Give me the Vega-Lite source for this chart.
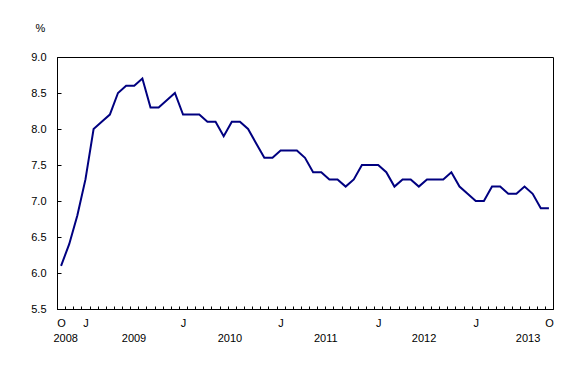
{
  "$schema": "https://vega.github.io/schema/vega-lite/v6.json",
  "autosize": "none",
  "width": 496,
  "height": 252,
  "padding": {"left": 57, "top": 57, "right": 35, "bottom": 71},
  "background": "white",
  "config": {
    "font": "Liberation Sans",
    "view": {"stroke": "black", "strokeWidth": 1},
    "axis": {"labelFont": "Liberation Sans", "labelFontSize": 11, "labelColor": "black", "domainColor": "black", "tickColor": "black", "grid": false, "titleFont": "Liberation Sans"}
  },
  "layer": [
    {
      "data": {"values": [
        {"i": 0, "month": "2008-10", "rate": 6.1}, {"i": 1, "month": "2008-11", "rate": 6.4}, {"i": 2, "month": "2008-12", "rate": 6.8},
        {"i": 3, "month": "2009-01", "rate": 7.3}, {"i": 4, "month": "2009-02", "rate": 8.0}, {"i": 5, "month": "2009-03", "rate": 8.1}, {"i": 6, "month": "2009-04", "rate": 8.2}, {"i": 7, "month": "2009-05", "rate": 8.5}, {"i": 8, "month": "2009-06", "rate": 8.6}, {"i": 9, "month": "2009-07", "rate": 8.6}, {"i": 10, "month": "2009-08", "rate": 8.7}, {"i": 11, "month": "2009-09", "rate": 8.3}, {"i": 12, "month": "2009-10", "rate": 8.3}, {"i": 13, "month": "2009-11", "rate": 8.4}, {"i": 14, "month": "2009-12", "rate": 8.5},
        {"i": 15, "month": "2010-01", "rate": 8.2}, {"i": 16, "month": "2010-02", "rate": 8.2}, {"i": 17, "month": "2010-03", "rate": 8.2}, {"i": 18, "month": "2010-04", "rate": 8.1}, {"i": 19, "month": "2010-05", "rate": 8.1}, {"i": 20, "month": "2010-06", "rate": 7.9}, {"i": 21, "month": "2010-07", "rate": 8.1}, {"i": 22, "month": "2010-08", "rate": 8.1}, {"i": 23, "month": "2010-09", "rate": 8.0}, {"i": 24, "month": "2010-10", "rate": 7.8}, {"i": 25, "month": "2010-11", "rate": 7.6}, {"i": 26, "month": "2010-12", "rate": 7.6},
        {"i": 27, "month": "2011-01", "rate": 7.7}, {"i": 28, "month": "2011-02", "rate": 7.7}, {"i": 29, "month": "2011-03", "rate": 7.7}, {"i": 30, "month": "2011-04", "rate": 7.6}, {"i": 31, "month": "2011-05", "rate": 7.4}, {"i": 32, "month": "2011-06", "rate": 7.4}, {"i": 33, "month": "2011-07", "rate": 7.3}, {"i": 34, "month": "2011-08", "rate": 7.3}, {"i": 35, "month": "2011-09", "rate": 7.2}, {"i": 36, "month": "2011-10", "rate": 7.3}, {"i": 37, "month": "2011-11", "rate": 7.5}, {"i": 38, "month": "2011-12", "rate": 7.5},
        {"i": 39, "month": "2012-01", "rate": 7.5}, {"i": 40, "month": "2012-02", "rate": 7.4}, {"i": 41, "month": "2012-03", "rate": 7.2}, {"i": 42, "month": "2012-04", "rate": 7.3}, {"i": 43, "month": "2012-05", "rate": 7.3}, {"i": 44, "month": "2012-06", "rate": 7.2}, {"i": 45, "month": "2012-07", "rate": 7.3}, {"i": 46, "month": "2012-08", "rate": 7.3}, {"i": 47, "month": "2012-09", "rate": 7.3}, {"i": 48, "month": "2012-10", "rate": 7.4}, {"i": 49, "month": "2012-11", "rate": 7.2}, {"i": 50, "month": "2012-12", "rate": 7.1},
        {"i": 51, "month": "2013-01", "rate": 7.0}, {"i": 52, "month": "2013-02", "rate": 7.0}, {"i": 53, "month": "2013-03", "rate": 7.2}, {"i": 54, "month": "2013-04", "rate": 7.2}, {"i": 55, "month": "2013-05", "rate": 7.1}, {"i": 56, "month": "2013-06", "rate": 7.1}, {"i": 57, "month": "2013-07", "rate": 7.2}, {"i": 58, "month": "2013-08", "rate": 7.1}, {"i": 59, "month": "2013-09", "rate": 6.9}, {"i": 60, "month": "2013-10", "rate": 6.9}
      ]},
      "mark": {"type": "line", "color": "#000080", "strokeWidth": 2},
      "encoding": {
        "x": {
          "field": "i", "type": "quantitative",
          "scale": {"domain": [-0.5, 60.5], "nice": false, "zero": false},
          "axis": {
            "orient": "bottom", "title": null, "labelAngle": 0, "tickSize": -3, "labelPadding": 11, "tickCount": 100,
            "labelOverlap": false, "labelBound": false, "labelFlush": false, "labelOffset": -4.07, "labelAlign": "center",
            "values": [-0.5, 0.5, 1.5, 2.5, 3.5, 4.5, 5.5, 6.5, 7.5, 8.5, 9.5, 10.5, 11.5, 12.5, 13.5, 14.5, 15.5, 16.5, 17.5, 18.5, 19.5, 20.5, 21.5, 22.5, 23.5, 24.5, 25.5, 26.5, 27.5, 28.5, 29.5, 30.5, 31.5, 32.5, 33.5, 34.5, 35.5, 36.5, 37.5, 38.5, 39.5, 40.5, 41.5, 42.5, 43.5, 44.5, 45.5, 46.5, 47.5, 48.5, 49.5, 50.5, 51.5, 52.5, 53.5, 54.5, 55.5, 56.5, 57.5, 58.5, 59.5, 60.5],
            "labelExpr": "datum.value == 0.5 || datum.value == 60.5 ? 'O' : (datum.value == 3.5 || datum.value == 15.5 || datum.value == 27.5 || datum.value == 39.5 || datum.value == 51.5 ? 'J' : '')"
          }
        },
        "y": {
          "field": "rate", "type": "quantitative",
          "scale": {"domain": [5.5, 9], "nice": false, "zero": false},
          "axis": {
            "values": [5.5, 6, 6.5, 7, 7.5, 8, 8.5, 9], "tickCount": 20, "format": ".1f", "tickSize": -4, "labelPadding": 15, "labelOverlap": false, "labelBound": false, "labelFlush": false,
            "title": "%", "titleAngle": 0, "titleFontSize": 11, "titleFontWeight": "normal", "titleColor": "black",
            "titleX": -17, "titleY": -26, "titleAlign": "center", "titleBaseline": "alphabetic"
          }
        }
      }
    },
    {
      "data": {"values": [
        {"year": "2008", "pos": 0.57}, {"year": "2009", "pos": 8.97}, {"year": "2010", "pos": 20.77},
        {"year": "2011", "pos": 32.55}, {"year": "2012", "pos": 44.64}, {"year": "2013", "pos": 57.43}
      ]},
      "mark": {"type": "text", "baseline": "middle", "align": "center", "dy": 30, "fontSize": 11, "font": "Liberation Sans", "color": "black"},
      "encoding": {
        "x": {"field": "pos", "type": "quantitative"},
        "y": {"datum": 5.5, "type": "quantitative"},
        "text": {"field": "year"}
      }
    }
  ]
}
